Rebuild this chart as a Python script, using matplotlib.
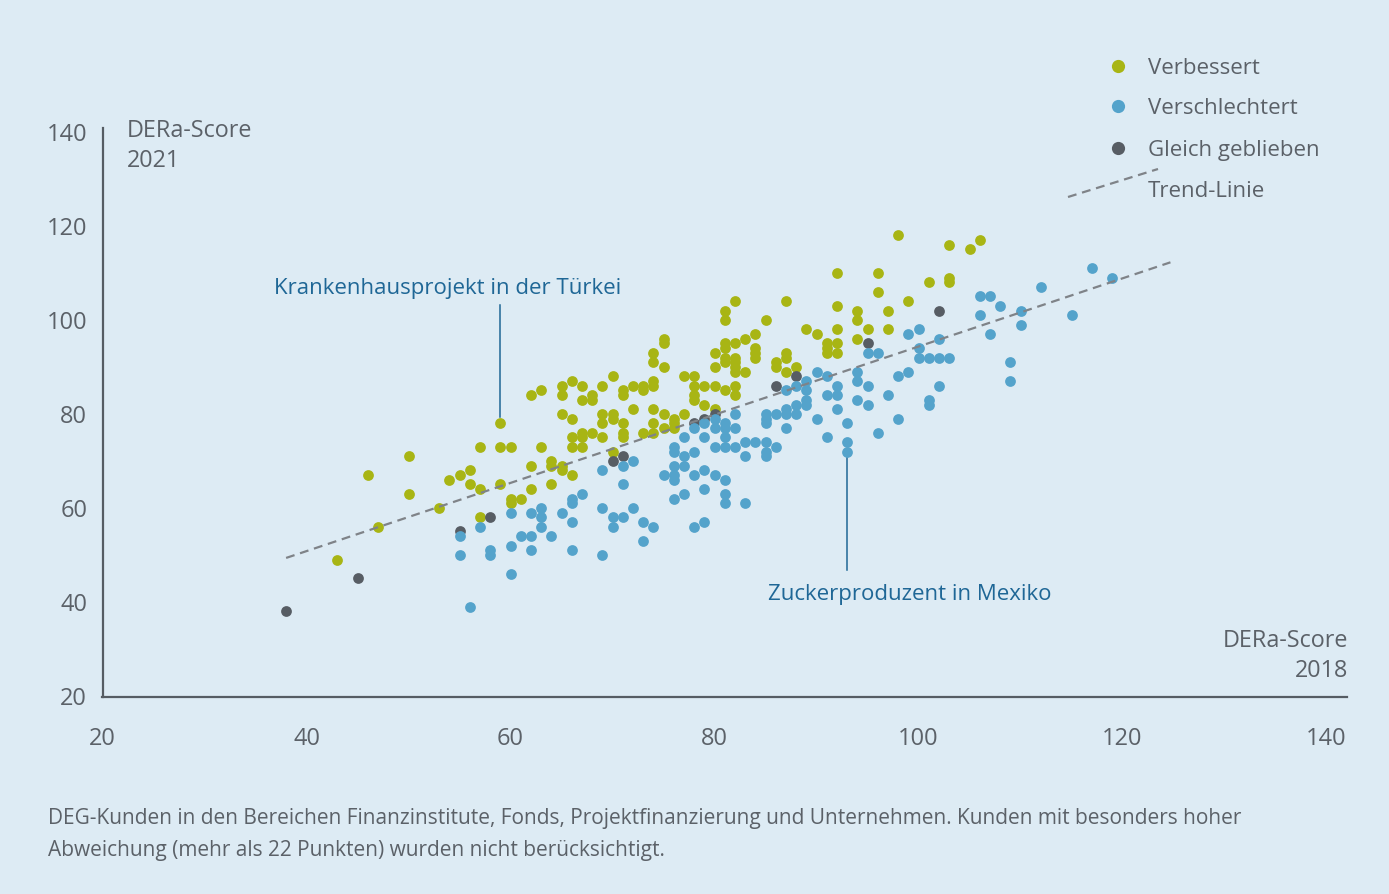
import matplotlib
matplotlib.use('Agg')
import matplotlib.pyplot as plt
from matplotlib.lines import Line2D

plt.rcParams['font.family'] = ['Open Sans', 'DejaVu Sans']

# ---------------- data (DERa-Score 2018 -> 2021) ----------------
improved_x = [43, 46, 47, 50, 50, 53, 54, 55, 56, 56, 57, 57, 57, 59, 59, 60, 59, 60, 60, 61,
              62, 62, 62, 63, 63, 64, 64, 64, 65, 65, 65, 65, 65, 66, 66, 66, 66, 66, 67, 67,
              67, 67, 67, 68, 68, 68, 69, 69, 69, 69, 70, 70, 70, 70, 71, 71, 71, 71, 71, 72,
              72, 73, 73, 73, 74, 74, 74, 74, 74, 74, 74, 75, 75, 75, 75, 75, 76, 76, 76, 77,
              77, 78, 78, 78, 78, 79, 79, 80, 80, 80, 80, 81, 81, 81, 81, 81, 81, 81, 82, 82,
              82, 82, 82, 82, 82, 82, 83, 83, 84, 84, 84, 84, 85, 86, 86, 87, 87, 87, 87, 88,
              89, 90, 91, 91, 91, 92, 92, 92, 92, 92, 94, 94, 94, 95, 96, 96, 97, 97, 98, 99,
              101, 103, 103, 103, 105, 106]
improved_y = [49, 67, 56, 71, 63, 60, 66, 67, 68, 65, 64, 73, 58, 78, 73, 73, 65, 62, 61, 62,
              69, 64, 84, 85, 73, 70, 69, 65, 69, 68, 86, 84, 80, 87, 79, 75, 73, 67, 86, 83,
              76, 75, 73, 84, 83, 76, 86, 80, 78, 75, 88, 80, 79, 72, 85, 84, 78, 76, 75, 86,
              81, 86, 85, 76, 93, 91, 87, 86, 81, 78, 76, 96, 95, 90, 80, 77, 79, 78, 77, 88,
              80, 88, 86, 84, 83, 86, 82, 86, 81, 93, 90, 85, 95, 94, 92, 91, 102, 100, 104, 95,
              92, 91, 90, 89, 86, 84, 96, 89, 97, 94, 93, 92, 100, 91, 90, 104, 93, 92, 89, 90,
              98, 97, 95, 94, 93, 110, 103, 98, 95, 93, 102, 100, 96, 98, 110, 106, 102, 98, 118, 104,
              108, 116, 109, 108, 115, 117]

worse_x = [55, 55, 56, 57, 58, 58, 60, 60, 60, 61, 62, 62, 62, 63, 63, 63, 64, 65, 66, 66,
           66, 66, 67, 69, 69, 69, 70, 70, 71, 71, 71, 72, 72, 73, 73, 74, 75, 76, 76, 76,
           76, 76, 76, 77, 77, 77, 77, 78, 78, 78, 78, 79, 79, 79, 79, 79, 80, 80, 80, 80,
           81, 81, 81, 81, 81, 81, 81, 82, 82, 82, 83, 83, 83, 84, 85, 85, 85, 85, 85, 85,
           86, 86, 87, 87, 87, 87, 88, 88, 88, 89, 89, 89, 89, 90, 90, 91, 91, 91, 92, 92,
           92, 93, 93, 93, 94, 94, 94, 95, 95, 95, 96, 96, 97, 98, 98, 99, 99, 100, 100, 100,
           101, 101, 101, 102, 102, 102, 103, 106, 107, 108, 106, 107, 109, 109, 110, 110, 112, 115, 117, 119]
worse_y = [54, 50, 39, 56, 51, 50, 59, 52, 46, 54, 59, 54, 51, 60, 58, 56, 54, 59, 62, 61,
           57, 51, 63, 68, 60, 50, 58, 56, 69, 65, 58, 70, 60, 57, 53, 56, 67, 73, 72, 69,
           67, 66, 62, 75, 71, 69, 63, 77, 72, 67, 56, 78, 75, 68, 64, 57, 79, 77, 73, 67,
           78, 77, 75, 73, 66, 63, 61, 80, 77, 73, 74, 71, 61, 74, 80, 79, 78, 74, 72, 71,
           80, 73, 85, 81, 80, 77, 86, 82, 80, 87, 85, 83, 82, 89, 79, 88, 84, 75, 86, 84,
           81, 78, 74, 72, 89, 87, 83, 93, 86, 82, 93, 76, 84, 88, 79, 97, 89, 98, 94, 92,
           92, 83, 82, 96, 92, 86, 92, 105, 105, 103, 101, 97, 91, 87, 102, 99, 107, 101, 111, 109]

same_x = [38, 45, 55, 58, 70, 71, 78, 79, 80, 86, 88, 95, 102]
same_y = [38, 45, 55, 58, 70, 71, 78, 79, 80, 86, 88, 95, 102]

trend_slope = 0.7255
trend_intercept = 21.8
trend_x = [38, 124.7]

x_ticks = [20, 40, 60, 80, 100, 120, 140]
y_ticks = [20, 40, 60, 80, 100, 120, 140]

legend_labels = ['Verbessert', 'Verschlechtert', 'Gleich geblieben', 'Trend-Linie']
hospital = (59, 78)
sugar = (93, 72)

# ---------------- style ----------------
BG = '#DDEBF4'
TXT = '#5B6168'
GREEN = '#A8B514'
BLUE = '#54A3CB'
DARK = '#575D64'
ANN = '#1F6796'
TREND = '#7F8388'
W, H = 1389, 894

fig = plt.figure(figsize=(W / 100, H / 100), dpi=100, facecolor=BG)
ax = fig.add_axes([102.5 / W, 0.22047, 0.8959, 0.63635], facecolor=BG)
ax.set_xlim(20, 142)
ax.set_ylim(19.8, 140.85)

ax.scatter(improved_x, improved_y, s=60, color=GREEN, linewidths=0, zorder=2)
ax.scatter(same_x, same_y, s=60, color=DARK, linewidths=0, zorder=2.1)
ax.scatter(worse_x, worse_y, s=60, color=BLUE, linewidths=0, zorder=2.2)

ty = [trend_slope * v + trend_intercept for v in trend_x]
ax.plot(trend_x, ty, color=TREND, lw=1.6, dashes=(4, 2.6), zorder=3)

ax.set_xticks(x_ticks)
ax.set_yticks(y_ticks)
ax.tick_params(axis='both', length=0, labelsize=17, labelcolor=TXT)
ax.tick_params(axis='x', pad=22)
ax.tick_params(axis='y', pad=11)
for s in ['top', 'right']:
    ax.spines[s].set_visible(False)
for s in ['left', 'bottom']:
    ax.spines[s].set_color('#555C63')
    ax.spines[s].set_linewidth(1.6)

# annotations
ax.plot([hospital[0], hospital[0]], [hospital[1] + 1.3, 103.2], color=ANN, lw=1.1, zorder=1)
ax.text(36.8, 105.5, 'Krankenhausprojekt in der Türkei', color=ANN, fontsize=16,
        ha='left', va='baseline')
ax.plot([sugar[0], sugar[0]], [sugar[1] - 1.2, 46.8], color=ANN, lw=1.1, zorder=1)
ax.text(85.2, 40.4, 'Zuckerproduzent in Mexiko', color=ANN, fontsize=16,
        ha='left', va='baseline')

def fy(py):
    return 1 - py / H

# axis titles
fig.text(127 / W, fy(137), 'DERa-Score', color=TXT, fontsize=16.8, va='baseline')
fig.text(127 / W, fy(167), '2021', color=TXT, fontsize=16.8, va='baseline')
fig.text(1348 / W, fy(647), 'DERa-Score', color=TXT, fontsize=16.8, va='baseline', ha='right')
fig.text(1348 / W, fy(677), '2018', color=TXT, fontsize=16.8, va='baseline', ha='right')

# legend
for py, col, lab in zip([66, 106, 148], [GREEN, BLUE, DARK], legend_labels[:3]):
    fig.add_artist(Line2D([1118 / W], [fy(py)], marker='o', markersize=9.5, color=col,
                          markeredgewidth=0, linestyle='none', transform=fig.transFigure))
    fig.text(1148 / W, fy(py + 8), lab, color=TXT, fontsize=16, va='baseline')
fig.add_artist(Line2D([1068 / W, 1158 / W], [fy(197), fy(169)], color=TREND, lw=1.6,
                      dashes=(4, 2.6), transform=fig.transFigure))
fig.text(1148 / W, fy(197), legend_labels[3], color=TXT, fontsize=16, va='baseline')

# footnote
fig.text(48 / W, fy(824), 'DEG-Kunden in den Bereichen Finanzinstitute, Fonds, Projektfinanzierung '
         'und Unternehmen. Kunden mit besonders hoher', color=TXT, fontsize=15, va='baseline')
fig.text(48 / W, fy(856), 'Abweichung (mehr als 22 Punkten) wurden nicht berücksichtigt.',
         color=TXT, fontsize=15, va='baseline')

fig.savefig('out.png', dpi=100, facecolor=BG)
